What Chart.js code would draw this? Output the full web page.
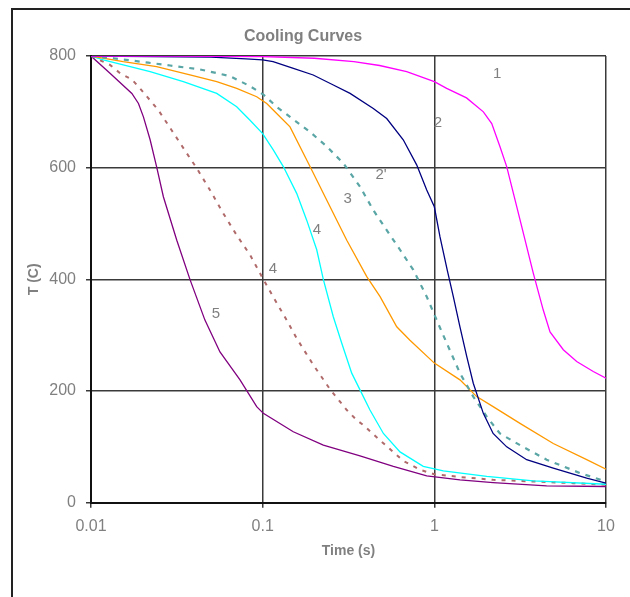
<!DOCTYPE html>
<html>
<head>
<meta charset="utf-8">
<script src="https://cdn.jsdelivr.net/npm/chart.js@4/dist/chart.umd.min.js"></script>
<style>
  html, body { margin: 0; padding: 0; background: #fff; }
  #wrap { position: relative; width: 630px; height: 597px; overflow: hidden; }
  #frame { position: absolute; left: 11px; top: 8px; width: 700px; height: 700px; border: 2px solid #222; }
  #chart { position: absolute; left: 0; top: 0; }
</style>
</head>
<body>
<div id="wrap">
  <div id="frame"></div>
  <canvas id="chart" width="630" height="597"></canvas>
</div>
<script>
// curve 1
const c1Time = [0.01, 0.03, 0.1, 0.2, 0.34, 0.48, 0.69, 1.0, 1.18, 1.54, 1.93, 2.16, 2.41, 2.64, 3.16, 3.77, 4.31, 4.72, 5.64, 6.75, 8.43, 10];
const c1Temp = [800, 800, 799, 796, 790, 783, 772, 754, 742, 725, 700, 679, 638, 602, 506, 411, 345, 306, 274, 253, 235, 223];

// curve 2
const c2Time = [0.01, 0.05, 0.08, 0.1, 0.115, 0.151, 0.197, 0.258, 0.323, 0.441, 0.528, 0.659, 0.789, 0.903, 1.0, 1.079, 1.19, 1.29, 1.41, 1.544, 1.686, 1.929, 2.2, 2.64, 3.45, 4.93, 7.72, 10];
const c2Temp = [800, 798, 795, 793, 790, 778, 766, 748, 733, 706, 688, 650, 605, 560, 530, 476, 416, 369, 315, 262, 214, 160, 124, 100, 77, 62, 44, 35];

// curve 2'
const c2pTime = [0.01, 0.0135, 0.0216, 0.0289, 0.0431, 0.0645, 0.0844, 0.1009, 0.1207, 0.1443, 0.1887, 0.236, 0.295, 0.369, 0.441, 0.528, 0.631, 0.754, 0.903, 1.032, 1.18, 1.41, 1.686, 2.02, 2.41, 3.155, 4.51, 7.06, 10];
const c2pTemp = [800, 796, 788, 783, 776, 764, 746, 731, 709, 691, 664, 638, 608, 566, 524, 488, 453, 417, 369, 327, 286, 232, 190, 154, 124, 103, 77, 53, 38];

// curve 3
const c3Time = [0.01, 0.0154, 0.0241, 0.0377, 0.054, 0.0706, 0.0923, 0.1056, 0.1207, 0.1443, 0.1887, 0.236, 0.309, 0.404, 0.483, 0.604, 0.721, 1.0, 1.41, 1.765, 2.2, 3.155, 4.93, 7.72, 10];
const c3Temp = [800, 790, 781, 766, 754, 742, 727, 715, 697, 673, 602, 542, 470, 405, 369, 315, 291, 250, 220, 190, 172, 142, 106, 77, 60];

// curve 4 (solid)
const c4Time = [0.01, 0.0118, 0.0154, 0.0221, 0.0345, 0.054, 0.0706, 0.0844, 0.1, 0.1153, 0.1319, 0.1578, 0.1805, 0.2065, 0.2256, 0.2579, 0.2886, 0.3302, 0.369, 0.4217, 0.505, 0.631, 0.862, 1.128, 2.02, 3.77, 10];
const c4Temp = [800, 793, 784, 772, 754, 733, 709, 685, 661, 632, 602, 554, 506, 453, 400, 333, 286, 232, 202, 166, 124, 91, 65, 57, 47, 39, 33];

// curve 4 (dashed)
const c4dTime = [0.01, 0.0129, 0.0148, 0.0173, 0.0193, 0.0247, 0.0295, 0.0361, 0.0413, 0.0493, 0.059, 0.0706, 0.0844, 0.1, 0.118, 0.138, 0.158, 0.197, 0.247, 0.309, 0.353, 0.386, 0.494, 0.659, 0.825, 1.0, 1.41, 2.2, 3.77, 6.45, 10];
const c4dTemp = [800, 784, 769, 758, 742, 703, 667, 626, 599, 560, 518, 479, 444, 402, 363, 327, 294, 247, 203, 166, 148, 139, 109, 75, 59, 51, 46, 41, 38, 35, 32];

// curve 5
const c5Time = [0.01, 0.0129, 0.0173, 0.0189, 0.0202, 0.0221, 0.0241, 0.0264, 0.0316, 0.0377, 0.0461, 0.0564, 0.0738, 0.0923, 0.1009, 0.1508, 0.2256, 0.369, 0.577, 0.903, 1.41, 2.2, 4.51, 10];
const c5Temp = [800, 769, 733, 715, 691, 650, 602, 548, 470, 400, 327, 270, 220, 172, 160, 127, 103, 84, 65, 48, 41, 36, 30, 29];

const xTicks = [0.01, 0.1, 1, 10];
const yTicks = [0, 200, 400, 600, 800];

// curve labels written on the plot
const labelText = ['1', '2', "2'", '3', '4', '4', '5'];
const labelTime = [2.32, 1.05, 0.489, 0.313, 0.2073, 0.1148, 0.0535];
const labelTemp = [768, 680, 587, 544, 488, 418, 338];

const pts = (xs, ys) => xs.map((x, i) => ({ x: x, y: ys[i] }));

const grey = '#808080';

const curveLabels = {
  id: 'curveLabels',
  afterDatasetsDraw(chart) {
    const ctx = chart.ctx;
    const sx = chart.scales.x, sy = chart.scales.y;
    ctx.save();
    ctx.font = '15px "Liberation Sans", Arial, sans-serif';
    ctx.fillStyle = grey;
    ctx.textAlign = 'center';
    ctx.textBaseline = 'middle';
    labelText.forEach((t, i) => {
      ctx.fillText(t, sx.getPixelForValue(labelTime[i]), sy.getPixelForValue(labelTemp[i]));
    });
    ctx.restore();
  }
};

const line = (data, color, dash, width) => ({
  data: data,
  borderColor: color,
  borderWidth: width || 1.3,
  borderDash: dash || [],
  pointRadius: 0,
  tension: 0,
  fill: false
});

new Chart(document.getElementById('chart'), {
  type: 'line',
  data: {
    datasets: [
      line(pts(c1Time, c1Temp), '#FF00FF'),
      line(pts(c2Time, c2Temp), '#000080'),
      line(pts(c2pTime, c2pTemp), '#5AA5A5', [5, 6], 2.2),
      line(pts(c3Time, c3Temp), '#FF9900'),
      line(pts(c4Time, c4Temp), '#00FFFF'),
      line(pts(c4dTime, c4dTemp), '#B06A6A', [4, 6], 2),
      line(pts(c5Time, c5Temp), '#800080')
    ]
  },
  options: {
    responsive: false,
    animation: false,
    devicePixelRatio: 1,
    layout: { padding: { left: 0, right: 24, top: 0, bottom: 0 } },
    plugins: {
      legend: { display: false },
      tooltip: { enabled: false },
      title: {
        display: true,
        text: 'Cooling Curves',
        color: grey,
        font: { family: '"Liberation Sans", Arial, sans-serif', size: 16, weight: 'bold' },
        padding: { top: 27, bottom: 9.8 }
      }
    },
    scales: {
      x: {
        type: 'logarithmic',
        min: 0.01,
        max: 10,
        afterBuildTicks: (s) => { s.ticks = xTicks.map(v => ({ value: v })); },
        afterFit: (s) => { s.height = 94.3; },
        ticks: {
          autoSkip: false,
          maxRotation: 0,
          padding: 9,
          color: grey,
          font: { family: '"Liberation Sans", Arial, sans-serif', size: 16 },
          callback: (v) => String(v)
        },
        grid: { color: '#3a3a3a', lineWidth: 1.5, tickLength: 5 },
        border: { color: '#111', width: 2 },
        title: {
          display: true,
          text: 'Time (s)',
          color: grey,
          font: { family: '"Liberation Sans", Arial, sans-serif', size: 14, weight: 'bold' },
          padding: { top: 0, bottom: 37.6 }
        }
      },
      y: {
        min: 0,
        max: 800,
        afterBuildTicks: (s) => { s.ticks = yTicks.map(v => ({ value: v })); },
        afterFit: (s) => { s.width = 91; },
        ticks: {
          padding: 10,
          color: grey,
          font: { family: '"Liberation Sans", Arial, sans-serif', size: 16 }
        },
        grid: { color: '#3a3a3a', lineWidth: 1.5, tickLength: 5 },
        border: { color: '#111', width: 2 },
        title: {
          display: true,
          text: 'T (C)',
          color: grey,
          font: { family: '"Liberation Sans", Arial, sans-serif', size: 14, weight: 'bold' },
          padding: { top: 25.6, bottom: 0 }
        }
      }
    }
  },
  plugins: [curveLabels]
});
</script>
</body>
</html>
